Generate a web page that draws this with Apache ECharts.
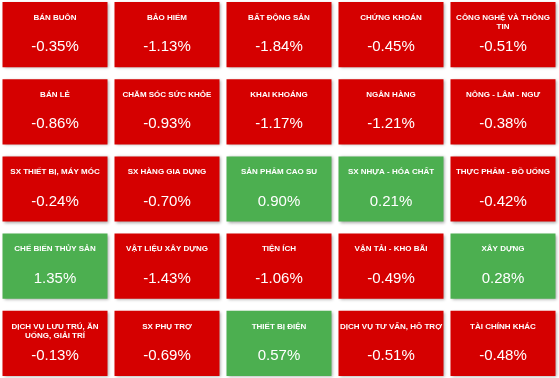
<!DOCTYPE html>
<html>
<head>
<meta charset="utf-8">
<script src="https://cdn.jsdelivr.net/npm/echarts@6/dist/echarts.min.js"></script>
<style>
  html, body { margin: 0; padding: 0; background: #fff; }
  #main { width: 559px; height: 378px; }
</style>
</head>
<body>
<div id="main"></div>
<script>
// tên ngành, theo hàng
const sectors = [
  "BÁN BUÔN", "BẢO HIỂM", "BẤT ĐỘNG SẢN", "CHỨNG KHOÁN", "CÔNG NGHỆ VÀ THÔNG\nTIN",
  "BÁN LẺ", "CHĂM SÓC SỨC KHỎE", "KHAI KHOÁNG", "NGÂN HÀNG", "NÔNG - LÂM - NGƯ",
  "SX THIẾT BỊ, MÁY MÓC", "SX HÀNG GIA DỤNG", "SẢN PHẨM CAO SU", "SX NHỰA - HÓA CHẤT", "THỰC PHẨM - ĐỒ UỐNG",
  "CHẾ BIẾN THỦY SẢN", "VẬT LIỆU XÂY DỰNG", "TIỆN ÍCH", "VẬN TẢI - KHO BÃI", "XÂY DỰNG",
  "DỊCH VỤ LƯU TRÚ, ĂN\nUỐNG, GIẢI TRÍ", "SX PHỤ TRỢ", "THIẾT BỊ ĐIỆN", "DỊCH VỤ TƯ VẤN, HỖ TRỢ", "TÀI CHÍNH KHÁC"
];
// % thay đổi
const changes = [
  -0.35, -1.13, -1.84, -0.45, -0.51,
  -0.86, -0.93, -1.17, -1.21, -0.38,
  -0.24, -0.70, 0.90, 0.21, -0.42,
  1.35, -1.43, -1.06, -0.49, 0.28,
  -0.13, -0.69, 0.57, -0.51, -0.48
];
const cols = ["0", "1", "2", "3", "4"];
const rows = ["0", "1", "2", "3", "4"];

const upColor = "#4caf50";
const downColor = "#d50000";

const chart = echarts.init(document.getElementById("main"));

const seriesData = changes.map((v, i) => [i % 5, Math.floor(i / 5), v, i]);

function renderTile(params, api) {
  const c = api.coord([api.value(0), api.value(1)]);
  const size = api.size([1, 1]);
  const w = size[0] - 7;
  const h = size[1] - 12;
  const x = c[0] - w / 2;
  const y = c[1] - h / 2;
  const v = api.value(2);
  const name = sectors[api.value(3)];
  return {
    type: "group",
    children: [
      {
        type: "rect",
        shape: { x: x, y: y, width: w, height: h },
        style: {
          fill: v >= 0 ? upColor : downColor,
          shadowBlur: 3,
          shadowOffsetX: 1,
          shadowOffsetY: 1,
          shadowColor: "rgba(0,0,0,0.35)"
        }
      },
      {
        type: "text",
        style: {
          text: name,
          x: c[0],
          y: y + 11,
          align: "center",
          verticalAlign: "top",
          fill: "#fff",
          font: "bold 8px 'Liberation Sans', Arial, sans-serif",
          lineHeight: 9
        }
      },
      {
        type: "text",
        style: {
          text: v.toFixed(2) + "%",
          x: c[0],
          y: y + 45,
          align: "center",
          verticalAlign: "middle",
          fill: "#fff",
          font: "15px 'Liberation Sans', Arial, sans-serif"
        }
      }
    ]
  };
}

const option = {
  animation: false,
  grid: { left: -1, top: -4, width: 560, height: 386, outerBoundsMode: "none", containLabel: false },
  xAxis: { type: "category", data: cols, show: false },
  yAxis: { type: "category", data: rows, inverse: true, show: false },
  series: [
    {
      type: "custom",
      renderItem: renderTile,
      data: seriesData
    }
  ]
};
chart.setOption(option);
</script>
</body>
</html>
